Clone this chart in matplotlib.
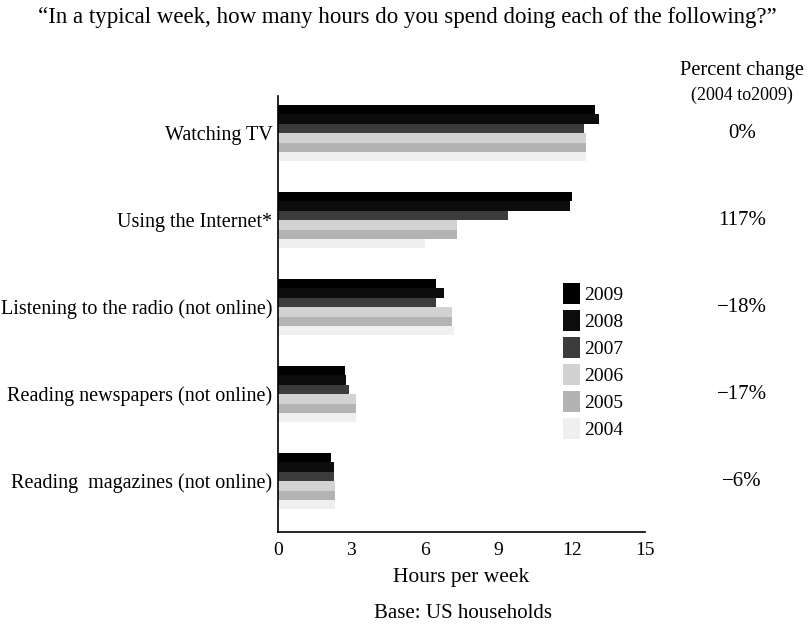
import matplotlib
matplotlib.use("Agg")
import matplotlib.pyplot as plt
import matplotlib.transforms as mtransforms
import numpy as np

plt.rcParams['font.family'] = ['Liberation Serif', 'DejaVu Serif']

categories = ["Watching TV", "Using the Internet*", "Listening to the radio (not online)",
              "Reading newspapers (not online)", "Reading  magazines (not online)"]
years = ["2009", "2008", "2007", "2006", "2005", "2004"]
hours_2009 = [12.95, 12.0, 6.45, 2.75, 2.15]
hours_2008 = [13.1, 11.95, 6.8, 2.8, 2.3]
hours_2007 = [12.5, 9.4, 6.45, 2.9, 2.3]
hours_2006 = [12.6, 7.3, 7.1, 3.2, 2.35]
hours_2005 = [12.6, 7.3, 7.1, 3.2, 2.35]
hours_2004 = [12.6, 6.0, 7.2, 3.2, 2.35]
pct_change = ["0%", "117%", "\u221218%", "\u221217%", "\u22126%"]
xticks = [0, 3, 6, 9, 12, 15]

series = [hours_2009, hours_2008, hours_2007, hours_2006, hours_2005, hours_2004]
colors = ["#000000", "#0c0c0c", "#3c3c3c", "#d2d2d2", "#b3b3b3", "#efefef"]

fig = plt.figure(figsize=(8.09, 6.32), dpi=100)
ax = fig.add_axes([0.3436, 0.1582, 0.4537, 0.6898])

h = 0.109
ypos = np.arange(len(categories))
handles = []
for i, (yr, vals, c) in enumerate(zip(years, series, colors)):
    b = ax.barh(ypos + (i - 2.5) * h, vals, height=h, color=c, edgecolor='none', label=yr)
    handles.append(b)

ax.set_xlim(0, 15)
ax.set_ylim(4.586, -0.425)
ax.set_xticks(xticks)
ax.set_xticklabels([str(t) for t in xticks], fontsize=14)
ax.set_yticks(ypos)
ax.set_yticklabels(categories, fontsize=14.5)
ax.tick_params(axis='both', length=0, pad=4)
ax.tick_params(axis='x', pad=7)
for s in ['top', 'right']:
    ax.spines[s].set_visible(False)
for s in ['left', 'bottom']:
    ax.spines[s].set_linewidth(1.2)
    ax.spines[s].set_color('black')

ax.set_xlabel("Hours per week", fontsize=15.5, labelpad=7)

fig.text(407 / 809, 1 - 18 / 632, "\u201cIn a typical week, how many hours do you spend doing each of the following?\u201d",
         ha='center', va='center', fontsize=16.5)
fig.text(463 / 809, 1 - 613 / 632, "Base: US households", ha='center', va='center', fontsize=15)

fig.text(742 / 809, 1 - 70 / 632, "Percent change", ha='center', va='center', fontsize=14.7)
fig.text(742 / 809, 1 - 95 / 632, "(2004 to2009)", ha='center', va='center', fontsize=13)
trans = mtransforms.blended_transform_factory(fig.transFigure, ax.transData)
for y, p in zip(ypos, pct_change):
    ax.text(742 / 809, y, p, transform=trans, ha='center', va='center', fontsize=15)

leg = ax.legend(handles=handles, loc='upper left', bbox_to_anchor=(563 / 809, 1 - 283 / 632),
                bbox_transform=fig.transFigure, frameon=False, fontsize=14,
                handlelength=0.85, handleheight=1.25, handletextpad=0.25, labelspacing=0.32,
                borderpad=0, borderaxespad=0)

fig.savefig("out.png", dpi=100)
